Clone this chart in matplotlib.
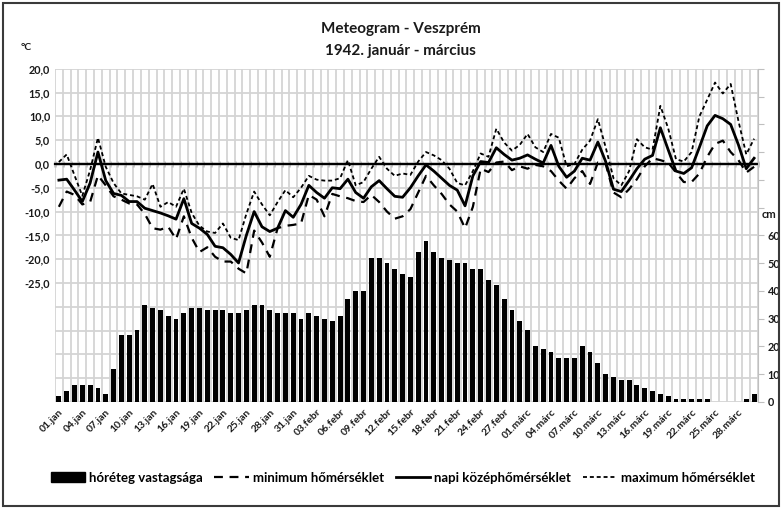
import numpy as np
import matplotlib.pyplot as plt
from matplotlib.patches import Patch, Rectangle
from matplotlib.lines import Line2D

plt.rcParams['font.family'] = ['Lato', 'DejaVu Sans']
plt.rcParams['font.weight'] = 'bold'

# napi adatok, 1942. jan 1 - márc vége
snow_cm = [2, 4, 6, 6, 6, 5, 3, 12, 24, 24,
           26, 35, 34, 33, 31, 30, 32, 34, 34, 33,
           33, 33, 32, 32, 33, 35, 35, 33, 32, 32,
           32, 30, 32, 31, 30, 29, 31, 37, 40, 40,
           52, 52, 50, 48, 46, 45, 54, 58, 54, 52,
           51, 50, 50, 48, 48, 44, 42, 37, 33, 29,
           26, 20, 19, 18, 16, 16, 16, 20, 18, 14,
           10, 9, 8, 8, 6, 5, 4, 3, 2, 1,
           1, 1, 1, 1, 0, 0, 0, 0, 1, 3]

t_mean = [-3.4, -3.2, -5.5, -7.9, -4.0, 2.5, -3.5, -6.2, -6.6, -7.9,
          -7.9, -9.3, -9.8, -10.3, -10.9, -11.6, -7.3, -12.5, -13.5, -14.8,
          -17.3, -17.6, -19.0, -20.8, -15.0, -10.0, -13.2, -14.2, -13.5, -9.8,
          -11.2, -8.5, -4.5, -6.0, -7.2, -5.0, -5.2, -3.2, -6.0, -7.2,
          -4.8, -3.5, -5.2, -6.8, -7.0, -5.0, -2.5, -0.2, -1.5, -3.0,
          -4.5, -5.5, -8.8, -2.5, 0.5, 0.3, 3.4, 2.0, 0.8, 1.2,
          1.9, 1.0, 0.2, 3.9, -0.5, -2.8, -1.5, 1.2, 0.8, 4.6,
          0.5, -5.3, -5.8, -3.5, -1.0, 1.0, 1.8, 7.6, 3.0, -1.5,
          -2.0, -0.8, 3.5, 8.0, 10.2, 9.5, 8.3, 4.0, -1.0, 1.2]

t_max = [0.4, 2.0, -2.4, -6.7, -1.3, 5.5, -0.6, -4.0, -6.2, -6.5,
         -6.8, -7.5, -4.2, -9.0, -8.0, -9.0, -5.2, -10.3, -13.0, -14.2,
         -14.5, -12.5, -15.5, -16.0, -10.5, -5.8, -8.5, -10.8, -8.0, -5.5,
         -7.0, -5.0, -2.5, -3.3, -3.5, -3.5, -3.0, 0.8, -4.5, -3.8,
         -1.0, 1.5, -1.0, -2.5, -2.0, -2.3, 0.5, 2.5, 1.8, 0.8,
         -1.0, -4.0, -4.5, -1.5, 2.2, 1.5, 7.4, 4.5, 2.8, 4.0,
         6.3, 3.5, 2.5, 6.3, 5.5, -0.5, 0.0, 3.0, 4.9, 9.4,
         3.5, -3.0, -4.5, -1.5, 5.2, 3.5, 3.0, 12.2, 7.5, 1.0,
         0.5, 2.5, 10.0, 13.5, 17.1, 14.8, 16.8, 9.0, 2.0, 5.3]

t_min = [-9.0, -5.8, -6.5, -8.5, -8.0, -2.4, -4.5, -6.8, -7.5, -8.3,
         -8.5, -10.5, -13.5, -13.8, -13.2, -15.8, -11.0, -15.5, -18.5, -17.5,
         -19.5, -20.5, -20.5, -22.0, -23.0, -14.0, -16.5, -19.5, -13.5, -13.0,
         -12.8, -12.5, -6.5, -7.5, -11.0, -6.3, -6.8, -7.2, -7.8, -8.0,
         -6.5, -8.0, -10.0, -11.5, -11.0, -9.5, -6.0, -2.5, -4.5, -6.3,
         -8.5, -10.0, -13.5, -9.0, -1.0, -1.7, 0.3, 0.5, -1.3, -0.5,
         -1.0, -0.2, -0.5, -1.5, -3.5, -5.2, -3.0, -1.5, -4.2, 0.3,
         0.0, -6.0, -7.0, -5.3, -3.2, -0.5, 1.2, 0.8, 0.3, -1.8,
         -3.8, -3.8, -2.0, 1.5, 4.2, 4.9, 2.5, 0.8, -1.8, -0.6]

tick_labels = ['01.jan', '04.jan', '07.jan', '10.jan', '13.jan', '16.jan',
               '19.jan', '22.jan', '25.jan', '28.jan', '31.jan',
               '03.febr', '06.febr', '09.febr', '12.febr', '15.febr',
               '18.febr', '21.febr', '24.febr', '27.febr',
               '01.márc', '04.márc', '07.márc', '10.márc', '13.márc',
               '16.márc', '19.márc', '22.márc', '25.márc', '28.márc']

n = len(t_mean)
x = np.arange(n)
grid_c = '#d4d4d4'
txt_c = '#1a1a1a'

fig = plt.figure(figsize=(7.82, 5.08), dpi=100)
ax = fig.add_axes([0.0703, 0.2087, 0.899, 0.656])

# hőmérséklet (bal tengely)
ax.set_xlim(-0.5, n - 0.5)
ax.set_ylim(-50, 20)
yt = np.arange(-50, 21, 5)
ax.set_yticks(yt)
ax.set_yticklabels([f'{v:.1f}'.replace('.', ',') if v >= -25 else '' for v in yt],
                   fontsize=7.8, fontweight='bold', color=txt_c)
ax.set_xticks(np.arange(-0.5, n, 1), minor=True)
ax.set_xticks(x[::3])
ax.set_xticklabels(tick_labels, rotation=45, ha='right', rotation_mode='anchor',
                   fontsize=7.5, fontweight='bold', color=txt_c)
ax.tick_params(axis='both', which='both', length=0)
ax.tick_params(axis='x', pad=4)
ax.grid(axis='y', color=grid_c, lw=1.3)
ax.grid(axis='x', which='minor', color=grid_c, lw=1.3)
for s in ax.spines.values():
    s.set_visible(False)

ax.plot(x, t_min, color='black', lw=1.6, ls=(0, (4, 3)), zorder=3)
ax.plot(x, t_max, color='black', lw=1.3, ls=(0, (2.2, 1.6)), zorder=3)
ax.plot(x, t_mean, color='black', lw=2.0, zorder=4)

# 0 fokos tengelyvonal osztásokkal
ax.axhline(0, color='black', lw=1.6, zorder=2.5)
zero = ax.secondary_xaxis(50 / 70)
zero.set_xticks(np.arange(-0.5, n, 1))
zero.tick_params(which='both', direction='inout', length=5, width=1, color='black',
                 labeltop=False, labelbottom=False)
for s in zero.spines.values():
    s.set_color('black')
    s.set_linewidth(1.6)

# hóréteg (jobb tengely)
ax2 = ax.twinx()
ax2.bar(x, snow_cm, width=0.62, color='black', zorder=2)
ax2.set_ylim(0, 120)
rt = np.arange(0, 121, 10)
ax2.set_yticks(rt)
ax2.set_yticklabels([str(v) if v <= 60 else '' for v in rt],
                    fontsize=7.8, fontweight='bold', color=txt_c)
ax2.tick_params(axis='y', length=4, color='#bfbfbf', pad=3)
for k in ['top', 'left', 'bottom']:
    ax2.spines[k].set_visible(False)
ax2.spines['right'].set_color('#bfbfbf')

fig.text(0.512, 0.942, 'Meteogram - Veszprém', ha='center', va='center',
         fontsize=11, fontweight='bold', color=txt_c)
fig.text(0.512, 0.900, '1942. január - március', ha='center', va='center',
         fontsize=11, fontweight='bold', color=txt_c)
fig.text(0.026, 0.907, '°C', ha='left', va='center', fontsize=7.5, fontweight='bold', color=txt_c)
fig.text(0.983, 0.577, 'cm', ha='center', va='center', fontsize=8, fontweight='bold', color=txt_c)

handles = [Patch(facecolor='black', edgecolor='black'),
           Line2D([], [], color='black', lw=1.6, ls=(0, (4, 3))),
           Line2D([], [], color='black', lw=2.0),
           Line2D([], [], color='black', lw=1.3, ls=(0, (2.2, 1.6)))]
labels = ['hóréteg vastagsága', 'minimum hőmérséklet',
          'napi középhőmérséklet', 'maximum hőmérséklet']
fig.legend(handles, labels, loc='center', bbox_to_anchor=(0.515, 0.06), ncol=4,
           frameon=False, handlelength=2.6, handleheight=0.8,
           columnspacing=0.9, handletextpad=0.3, prop={'weight': 'bold', 'size': 9.5})

fig.patches.append(Rectangle((0.004, 0.004), 0.992, 0.991, transform=fig.transFigure,
                             fill=False, edgecolor='#3a3a3a', lw=1.5))

fig.savefig('out.png', dpi=100)
